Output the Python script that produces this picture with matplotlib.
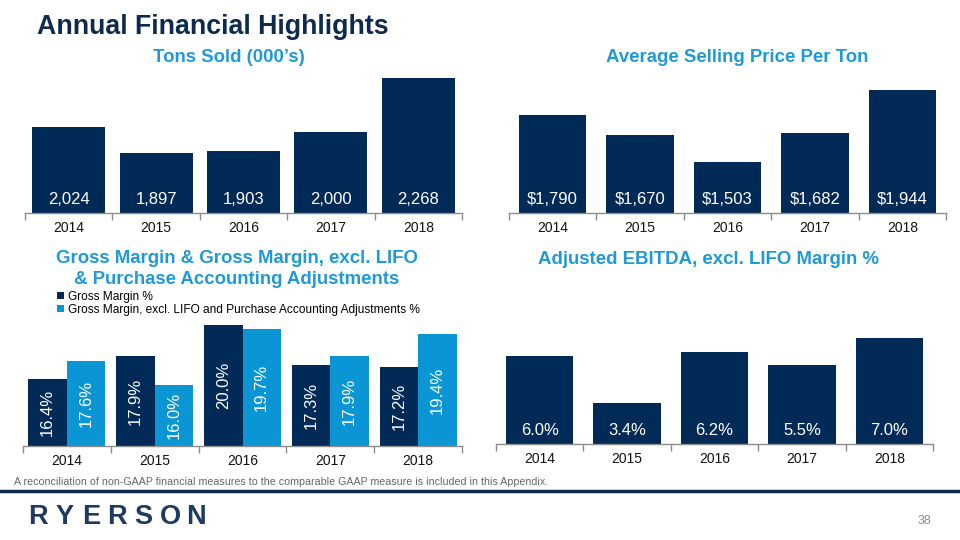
import matplotlib
matplotlib.use('Agg')
import matplotlib.pyplot as plt
import numpy as np

plt.rcParams['font.family'] = ['Liberation Sans', 'DejaVu Sans']

# Данные
years = ['2014', '2015', '2016', '2017', '2018']
tons_sold = [2024, 1897, 1903, 2000, 2268]
avg_price = [1790, 1670, 1503, 1682, 1944]
gross_margin = [16.4, 17.9, 20.0, 17.3, 17.2]
gross_margin_adj = [17.6, 16.0, 19.7, 17.9, 19.4]
ebitda_margin = [6.0, 3.4, 6.2, 5.5, 7.0]

NAVY = '#022a56'
LIGHT = '#0a96d4'
TITLE_BLUE = '#1f9ad6'
GRAY = '#8c8c8c'

W, H = 960, 540
fig = plt.figure(figsize=(9.6, 5.4), dpi=100)


def px_axes(left, right, bottom, top):
    # координаты в пикселях -> доли фигуры
    return fig.add_axes([left / W, 1 - bottom / H, (right - left) / W, (bottom - top) / H])


def style_axis(ax):
    for s in ['top', 'right', 'left']:
        ax.spines[s].set_visible(False)
    ax.spines['bottom'].set_color(GRAY)
    ax.spines['bottom'].set_linewidth(1.0)
    ax.set_yticks([])
    ax.set_xlim(-0.5, 4.5)
    ax.set_xticks(range(len(years)))
    ax.set_xticklabels(years, fontsize=10, color='#111111')
    ax.tick_params(axis='x', which='major', length=0, pad=6)
    ax.set_xticks(np.arange(-0.5, 5, 1), minor=True)
    ax.tick_params(axis='x', which='minor', length=5, color=GRAY, width=1)
    ax.set_facecolor('none')


def bottom_labels(ax, values, fmt):
    y0 = ax.get_ylim()[0]
    for i, v in enumerate(values):
        ax.annotate(fmt(v), xy=(i, y0), xytext=(0, 10), textcoords='offset points',
                    ha='center', va='center', color='white', fontsize=12)


# 1. Tons Sold
ax1 = px_axes(25, 462, 213, 75)
ax1.bar(range(5), tons_sold, width=0.835, color=NAVY)
ax1.set_ylim(1596, 2283)
style_axis(ax1)
bottom_labels(ax1, tons_sold, lambda v: f'{v:,}')

# 2. Average Selling Price
ax2 = px_axes(509, 946, 213, 85)
ax2.bar(range(5), avg_price, width=0.77, color=NAVY)
ax2.set_ylim(1187, 1977)
style_axis(ax2)
bottom_labels(ax2, avg_price, lambda v: f'${v:,}')

# 3. Gross Margin
ax3 = px_axes(23, 462, 446, 322)
x = np.arange(5)
bw = 0.4375
b1 = ax3.bar(x - bw / 2, gross_margin, width=bw, color=NAVY, label='Gross Margin %')
b2 = ax3.bar(x + bw / 2, gross_margin_adj, width=bw, color=LIGHT,
             label='Gross Margin, excl. LIFO and Purchase Accounting Adjustments %')
ax3.set_ylim(11.93, 20.2)
style_axis(ax3)
ax3.bar_label(b1, labels=[f'{v:.1f}%' for v in gross_margin], label_type='center',
              rotation=90, color='white', fontsize=12)
ax3.bar_label(b2, labels=[f'{v:.1f}%' for v in gross_margin_adj], label_type='center',
              rotation=90, color='white', fontsize=12)
ax3.legend(loc='upper left', bbox_to_anchor=(57 / W, 1 - 291 / H), bbox_transform=fig.transFigure,
           frameon=False, fontsize=8.6, handlelength=0.55, handleheight=0.55, handletextpad=0.35,
           labelspacing=0.05, borderpad=0, borderaxespad=0)

# 4. Adjusted EBITDA
ax4 = px_axes(496, 933, 444, 330)
ax4.bar(range(5), ebitda_margin, width=0.77, color=NAVY)
ax4.set_ylim(1.11, 7.44)
style_axis(ax4)
bottom_labels(ax4, ebitda_margin, lambda v: f'{v:.1f}%')

# Заголовки
fig.text(37 / W, 1 - 27 / H, 'Annual Financial Highlights', fontsize=19.3, fontweight='bold',
         color='#0e2a4f', ha='left', va='center')
fig.text(229 / W, 1 - 58 / H, 'Tons Sold (000\u2019s)', fontsize=13.4, fontweight='bold',
         color=TITLE_BLUE, ha='center', va='center')
fig.text(737 / W, 1 - 57 / H, 'Average Selling Price Per Ton', fontsize=13.4, fontweight='bold',
         color=TITLE_BLUE, ha='center', va='center')
fig.text(237 / W, 1 - 269 / H, 'Gross Margin & Gross Margin, excl. LIFO\n& Purchase Accounting Adjustments',
         fontsize=13.4, fontweight='bold', color=TITLE_BLUE, ha='center', va='center',
         linespacing=1.25)
fig.text(709 / W, 1 - 260 / H, 'Adjusted EBITDA, excl. LIFO Margin %', fontsize=13.4,
         fontweight='bold', color=TITLE_BLUE, ha='center', va='center')

# Подвал
fig.text(14 / W, 1 - 482 / H,
         'A reconciliation of non-GAAP financial measures to the comparable GAAP measure is included in this Appendix.',
         fontsize=7.7, color='#666666', ha='left', va='center')
fig.add_artist(plt.Line2D([0, 1], [1 - 491 / H, 1 - 491 / H], transform=fig.transFigure,
                          color='#0d2a4a', linewidth=2.5))
for i, ch in enumerate('RYERSON'):
    fig.text((38 + i * 26.4) / W, 1 - 517 / H, ch, fontsize=19.5, fontweight='bold',
             color='#1e3a60', ha='center', va='center')
fig.text(924 / W, 1 - 521 / H, '38', fontsize=9, color='#8a8a8a', ha='center', va='center')

fig.savefig('out.png', dpi=100)
